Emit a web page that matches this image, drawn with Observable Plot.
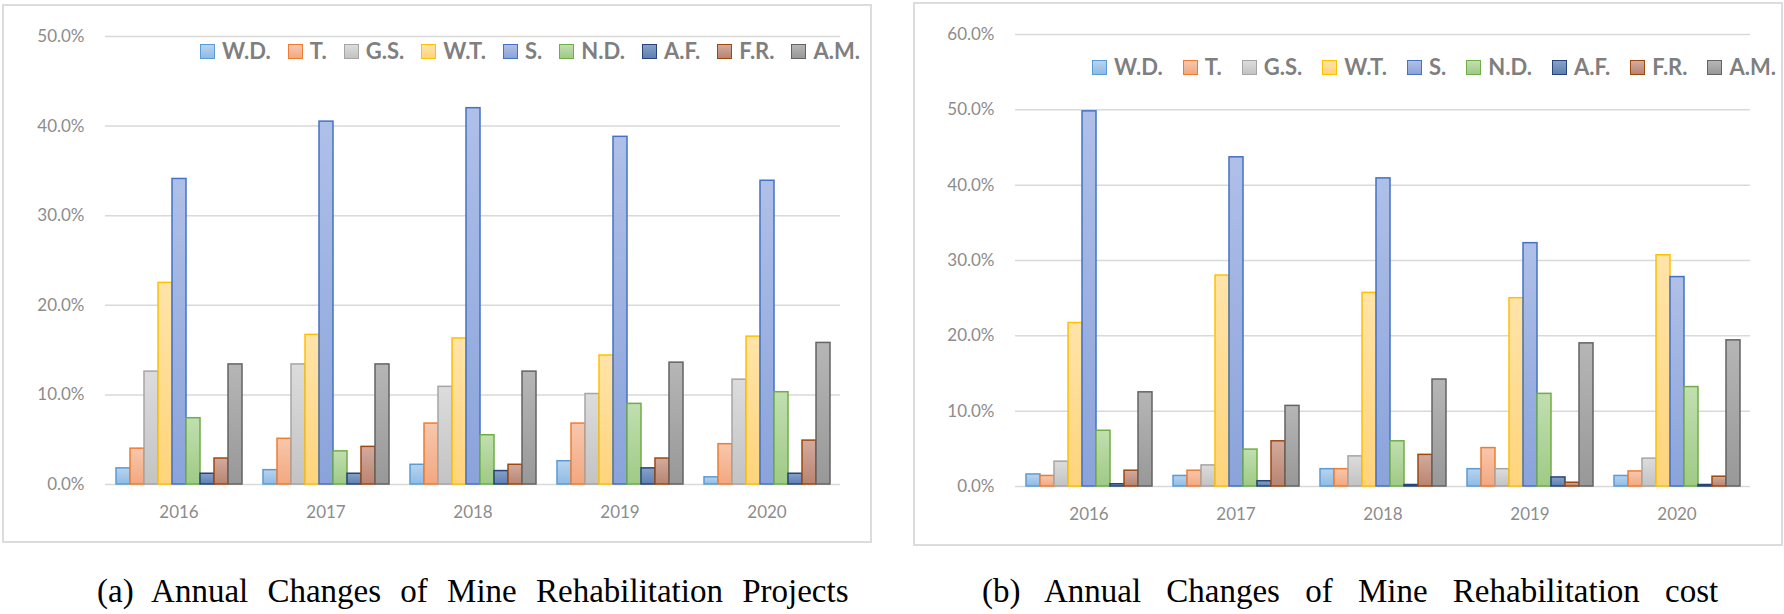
<!DOCTYPE html>
<html><head><meta charset="utf-8">
<script src="https://cdn.jsdelivr.net/npm/d3@7"></script>
<script src="https://cdn.jsdelivr.net/npm/@observablehq/plot@0.6"></script>
<style>
html,body{margin:0;padding:0;background:#fff;}
body{width:1784px;height:614px;position:relative;overflow:hidden;}
.frame{position:absolute;border:2px solid #dcdcdc;box-sizing:border-box;}
.plot{position:absolute;top:0;}
.legend{position:absolute;display:flex;align-items:center;font-family:Lato,sans-serif;font-weight:700;font-size:22px;line-height:1;color:#7f7f7f;white-space:nowrap;}
.item{display:flex;align-items:center;}
.sw{width:15px;height:15px;box-sizing:border-box;border:1.5px solid;margin-right:7px;}
.caption{position:absolute;font-family:"Liberation Serif",serif;font-size:33px;line-height:1;color:#000;white-space:nowrap;}
</style></head><body>
<div class="frame" style="left:2px;top:4px;width:870px;height:539px"></div>
<div class="frame" style="left:913px;top:2px;width:870px;height:544px"></div>
<div id="a" class="plot" style="left:0px"></div>
<div id="b" class="plot" style="left:890px"></div>
<div id="legA" class="legend" style="left:200px;top:40px"></div>
<div id="legB" class="legend" style="left:1092px;top:56px"></div>
<div class="caption" style="left:97px;top:575px;word-spacing:11px">(a) Annual Changes of Mine Rehabilitation Projects</div>
<div class="caption" style="left:982px;top:575px;word-spacing:17px">(b) Annual Changes of Mine Rehabilitation cost</div>
<script>
// categories
const years = ["2016", "2017", "2018", "2019", "2020"];
const series = ["W.D.", "T.", "G.S.", "W.T.", "S.", "N.D.", "A.F.", "F.R.", "A.M."];

// (a) share of mine rehabilitation projects, % (order follows `series`)
const projects2016 = [1.8, 4.0, 12.6, 22.5, 34.1, 7.4, 1.2, 2.9, 13.4];
const projects2017 = [1.6, 5.1, 13.4, 16.7, 40.5, 3.7, 1.2, 4.2, 13.4];
const projects2018 = [2.2, 6.8, 10.9, 16.3, 42.0, 5.5, 1.5, 2.2, 12.6];
const projects2019 = [2.6, 6.8, 10.1, 14.4, 38.8, 9.0, 1.8, 2.9, 13.6];
const projects2020 = [0.8, 4.5, 11.7, 16.5, 33.9, 10.3, 1.2, 4.9, 15.8];

// (b) share of mine rehabilitation cost, %
const cost2016 = [1.6, 1.4, 3.3, 21.7, 49.8, 7.4, 0.3, 2.1, 12.5];
const cost2017 = [1.4, 2.1, 2.8, 28.0, 43.7, 4.9, 0.7, 6.0, 10.7];
const cost2018 = [2.3, 2.3, 4.0, 25.7, 40.9, 6.0, 0.2, 4.2, 14.2];
const cost2019 = [2.3, 5.1, 2.3, 25.0, 32.3, 12.3, 1.2, 0.5, 19.0];
const cost2020 = [1.4, 2.0, 3.7, 30.7, 27.8, 13.2, 0.2, 1.3, 19.4];

// tick values
const yTicksA = [0, 0.1, 0.2, 0.3, 0.4, 0.5];
const yTicksB = [0, 0.1, 0.2, 0.3, 0.4, 0.5, 0.6];

// styles
const fillTop = ["#b7d4ef", "#f8c7ad", "#dcdcdc", "#ffe4a9", "#afc0e8", "#c1dfb0", "#86a1c9", "#d2ab9e", "#b6b6b6"];
const fillBot = ["#8fbbe5", "#f2a880", "#c3c3c3", "#ffd47b", "#8aa3da", "#9fca86", "#5f80b2", "#b98471", "#989898"];
const strokes = ["#5b9bd5", "#ed7d31", "#a5a5a5", "#ffc000", "#4472c4", "#70ad47", "#264478", "#9e480e", "#636363"];

function buildTable(rows) {
  const out = [];
  years.forEach((y, i) => rows[i].forEach((v, j) => out.push({year: y, series: series[j], value: v / 100})));
  return out;
}

function makeChart(id, rows, ticks, opts, prefix) {
  const data = buildTable(rows);
  const marks = [
    Plot.ruleY(ticks, {stroke: "#d9d9d9", strokeWidth: 1.5}),
    ...series.map((s, j) => Plot.barY(data.filter(d => d.series === s), {
      fx: "year", x: "series", y: "value",
      fill: `url(#${prefix}g${j})`, stroke: strokes[j], strokeWidth: 1.5
    }))
  ];
  const el = Plot.plot({
    width: opts.width, height: 545,
    marginLeft: opts.ml, marginRight: opts.mr, marginTop: opts.mt, marginBottom: 545 - opts.base,
    fx: {domain: years, padding: 0, label: null, tickSize: 0, tickPadding: 21, axis: "bottom"},
    x: {domain: series, paddingInner: 0, paddingOuter: 0.74, axis: null},
    y: {domain: [0, ticks[ticks.length - 1]], ticks: ticks, tickFormat: d3.format(".1%"), tickSize: 0, tickPadding: 21, label: null},
    style: {fontFamily: "Lato, sans-serif", fontSize: "17px", color: "#8c8c8c", background: "transparent", overflow: "visible"},
    marks
  });
  const svg = el.tagName.toLowerCase() === "svg" ? el : el.querySelector("svg");
  const defs = document.createElementNS("http://www.w3.org/2000/svg", "defs");
  defs.innerHTML = series.map((s, j) =>
    `<linearGradient id="${prefix}g${j}" x1="0" y1="0" x2="0" y2="1"><stop offset="0" stop-color="${fillTop[j]}"/><stop offset="1" stop-color="${fillBot[j]}"/></linearGradient>`).join("");
  svg.insertBefore(defs, svg.firstChild);
  document.getElementById(id).appendChild(el);
}

function makeLegend(id, gap) {
  const el = document.getElementById(id);
  series.forEach((s, j) => {
    const it = document.createElement("div");
    it.className = "item";
    if (j < series.length - 1) it.style.marginRight = gap + "px";
    const sw = document.createElement("div");
    sw.className = "sw";
    sw.style.borderColor = strokes[j];
    sw.style.background = `linear-gradient(${fillTop[j]}, ${fillBot[j]})`;
    const t = document.createElement("span");
    t.textContent = s;
    it.appendChild(sw); it.appendChild(t);
    el.appendChild(it);
  });
}

makeChart("a", [projects2016, projects2017, projects2018, projects2019, projects2020], yTicksA,
  {width: 880, ml: 103, mr: 38, mt: 36, base: 484}, "pa");
makeChart("b", [cost2016, cost2017, cost2018, cost2019, cost2020], yTicksB,
  {width: 894, ml: 123, mr: 32, mt: 34, base: 486}, "pb");
makeLegend("legA", 17);
makeLegend("legB", 20);
</script>
</body></html>
